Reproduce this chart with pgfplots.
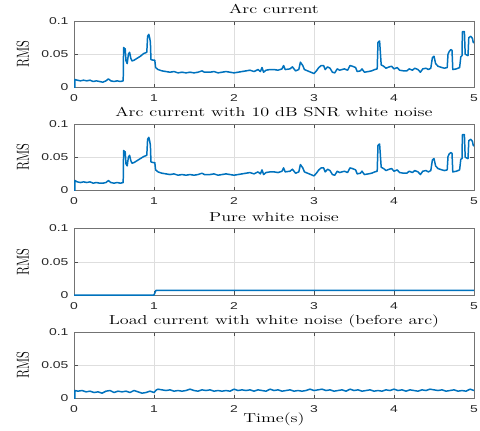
\documentclass[border=0pt]{standalone}
\usepackage{fontspec}
\setmainfont{Latin Modern Roman}[FakeStretch=1.4]
\newfontfamily\rmsfont{Latin Modern Roman}
\newfontfamily\tickfont{Liberation Sans}[FakeStretch=1.4]
\usepackage{pgfplots}
\usepackage{pgfplotstable}
\pgfplotsset{compat=1.18}
\definecolor{mblue}{RGB}{0,114,189}

\pgfplotstableread{
x y
0 0
0.01 0
0.012 0.012
0.04 0.011
0.08 0.010
0.12 0.011
0.16 0.010
0.2 0.011
0.24 0.009
0.28 0.010
0.32 0.009
0.36 0.008
0.40 0.010
0.43 0.013
0.46 0.010
0.5 0.009
0.54 0.010
0.58 0.009
0.615 0.010
0.62 0.060
0.64 0.058
0.65 0.040
0.665 0.036
0.68 0.050
0.695 0.053
0.71 0.044
0.725 0.040
0.75 0.041
0.79 0.044
0.83 0.047
0.87 0.051
0.91 0.053
0.92 0.077
0.935 0.080
0.945 0.075
0.955 0.068
0.962 0.042
0.99 0.041
1.01 0.041
1.02 0.030
1.05 0.027
1.1 0.025
1.15 0.024
1.2 0.023
1.25 0.024
1.3 0.022
1.35 0.023
1.4 0.022
1.45 0.023
1.5 0.022
1.55 0.023
1.6 0.025
1.63 0.023
1.7 0.023
1.75 0.024
1.8 0.022
1.85 0.023
1.9 0.024
1.95 0.023
2.0 0.022
2.05 0.023
2.1 0.024
2.15 0.025
2.2 0.026
2.25 0.024
2.3 0.027
2.33 0.024
2.35 0.030
2.37 0.023
2.4 0.026
2.45 0.027
2.5 0.027
2.55 0.026
2.6 0.028
2.62 0.033
2.64 0.027
2.7 0.028
2.73 0.031
2.77 0.025
2.81 0.027
2.83 0.038
2.86 0.033
2.88 0.027
2.92 0.025
2.96 0.023
3.0 0.021
3.03 0.025
3.06 0.030
3.09 0.033
3.12 0.033
3.14 0.027
3.17 0.031
3.2 0.029
3.23 0.023
3.26 0.022
3.29 0.028
3.32 0.026
3.35 0.027
3.38 0.028
3.42 0.026
3.45 0.033
3.48 0.032
3.52 0.030
3.54 0.024
3.58 0.025
3.6 0.028
3.63 0.023
3.68 0.024
3.72 0.025
3.76 0.027
3.79 0.028
3.8 0.068
3.82 0.070
3.84 0.034
3.87 0.032
3.9 0.029
3.94 0.031
3.97 0.032
4.0 0.028
4.04 0.030
4.07 0.026
4.12 0.025
4.16 0.025
4.19 0.028
4.23 0.026
4.26 0.029
4.3 0.027
4.33 0.023
4.36 0.028
4.4 0.029
4.43 0.027
4.46 0.029
4.48 0.045
4.5 0.047
4.52 0.036
4.55 0.032
4.6 0.030
4.63 0.029
4.665 0.030
4.675 0.050
4.69 0.054
4.71 0.057
4.725 0.056
4.735 0.027
4.78 0.028
4.82 0.030
4.835 0.046
4.85 0.048
4.855 0.084
4.88 0.084
4.89 0.050
4.925 0.048
4.935 0.075
4.96 0.077
4.98 0.074
4.99 0.068
5.0 0.067
}\arcdata

\pgfplotstableread{
x y
0 0
0.01 0
0.012 0.015
0.04 0.013
0.08 0.012
0.12 0.013
0.16 0.012
0.2 0.013
0.24 0.011
0.28 0.012
0.32 0.011
0.36 0.011
0.40 0.012
0.43 0.015
0.46 0.012
0.5 0.011
0.54 0.012
0.58 0.011
0.615 0.012
0.62 0.060
0.64 0.058
0.65 0.040
0.665 0.037
0.68 0.050
0.695 0.053
0.71 0.045
0.725 0.041
0.75 0.042
0.79 0.045
0.83 0.048
0.87 0.051
0.91 0.053
0.92 0.077
0.935 0.080
0.945 0.075
0.955 0.068
0.962 0.043
0.99 0.042
1.01 0.042
1.02 0.031
1.05 0.028
1.1 0.026
1.15 0.025
1.2 0.024
1.25 0.025
1.3 0.023
1.35 0.024
1.4 0.023
1.45 0.024
1.5 0.023
1.55 0.024
1.6 0.026
1.63 0.024
1.7 0.024
1.75 0.025
1.8 0.023
1.85 0.024
1.9 0.025
1.95 0.024
2.0 0.023
2.05 0.024
2.1 0.025
2.15 0.026
2.2 0.027
2.25 0.025
2.3 0.028
2.33 0.025
2.35 0.031
2.37 0.024
2.4 0.027
2.45 0.028
2.5 0.028
2.55 0.027
2.6 0.029
2.62 0.034
2.64 0.028
2.7 0.029
2.73 0.032
2.77 0.026
2.81 0.028
2.83 0.039
2.86 0.034
2.88 0.028
2.92 0.026
2.96 0.024
3.0 0.022
3.03 0.026
3.06 0.031
3.09 0.034
3.12 0.034
3.14 0.028
3.17 0.032
3.2 0.030
3.23 0.024
3.26 0.023
3.29 0.029
3.32 0.027
3.35 0.028
3.38 0.029
3.42 0.027
3.45 0.034
3.48 0.033
3.52 0.031
3.54 0.025
3.58 0.026
3.6 0.029
3.63 0.024
3.68 0.025
3.72 0.026
3.76 0.028
3.79 0.029
3.8 0.068
3.82 0.070
3.84 0.035
3.87 0.033
3.9 0.030
3.94 0.032
3.97 0.033
4.0 0.029
4.04 0.031
4.07 0.027
4.12 0.026
4.16 0.026
4.19 0.029
4.23 0.027
4.26 0.030
4.3 0.028
4.33 0.024
4.36 0.029
4.4 0.030
4.43 0.028
4.46 0.030
4.48 0.046
4.5 0.048
4.52 0.037
4.55 0.033
4.6 0.031
4.63 0.030
4.665 0.031
4.675 0.051
4.69 0.055
4.71 0.057
4.725 0.056
4.735 0.028
4.78 0.029
4.82 0.031
4.835 0.047
4.85 0.048
4.855 0.084
4.88 0.084
4.89 0.050
4.925 0.048
4.935 0.075
4.96 0.077
4.98 0.074
4.99 0.068
5.0 0.067
}\noisyarc

\pgfplotstableread{
x y
0 0
1.0 0
1.01 0.003
1.025 0.007
2.0 0.007
3.0 0.007
4.0 0.007
5.0 0.007
}\whitenoise

\pgfplotstableread{
x y
0 0
0.01 0
0.012 0.012
0.05 0.011
0.1 0.012
0.15 0.010
0.2 0.011
0.25 0.009
0.3 0.010
0.35 0.008
0.4 0.011
0.45 0.012
0.5 0.009
0.55 0.011
0.6 0.010
0.65 0.011
0.7 0.009
0.75 0.012
0.8 0.010
0.85 0.008
0.9 0.009
0.95 0.011
1.0 0.009
1.03 0.013
1.05 0.014
1.1 0.013
1.15 0.012
1.2 0.013
1.25 0.011
1.3 0.012
1.35 0.011
1.4 0.012
1.45 0.014
1.5 0.012
1.55 0.011
1.6 0.013
1.65 0.012
1.7 0.013
1.75 0.011
1.8 0.012
1.85 0.011
1.9 0.012
1.95 0.011
2.0 0.014
2.05 0.012
2.1 0.013
2.15 0.012
2.2 0.013
2.25 0.011
2.3 0.013
2.35 0.012
2.4 0.011
2.45 0.014
2.5 0.012
2.55 0.013
2.6 0.011
2.65 0.012
2.7 0.013
2.75 0.011
2.8 0.012
2.85 0.011
2.9 0.012
2.95 0.014
3.0 0.012
3.05 0.013
3.1 0.014
3.15 0.012
3.2 0.013
3.25 0.011
3.3 0.012
3.35 0.013
3.4 0.011
3.45 0.014
3.5 0.012
3.55 0.013
3.6 0.011
3.65 0.012
3.7 0.013
3.75 0.011
3.8 0.012
3.85 0.011
3.9 0.013
3.95 0.012
4.0 0.014
4.05 0.012
4.1 0.013
4.15 0.011
4.2 0.013
4.25 0.012
4.3 0.011
4.35 0.013
4.4 0.012
4.45 0.014
4.5 0.013
4.55 0.012
4.6 0.013
4.65 0.011
4.7 0.012
4.75 0.013
4.8 0.011
4.85 0.012
4.9 0.011
4.95 0.014
5.0 0.012
}\loaddata

\pgfplotsset{panel/.style={
  scale only axis, width=400bp, height=66.5bp,
  xmin=0, xmax=5, ymin=0, ymax=0.1,
  xtick={0,1,2,3,4,5}, xticklabels={0,1,2,3,4,5},
  ytick={0,0.05,0.1}, yticklabels={0,0.05,0.1},
  scaled y ticks=false,
  grid=major, major grid style={color=black!13, line width=0.5pt},
  axis line style={color=black!55, line width=0.6pt},
  tick style={color=black!70, line width=0.5pt},
  tick align=inside, major tick length=4bp,
  ticklabel style={font=\tickfont\fontsize{10}{12}\selectfont, color=black!85},
  /pgf/number format/assume math mode=true,
  xticklabel style={anchor=base, yshift=-14bp},
  yticklabel style={xshift=-2bp},
  title style={font=\fontsize{13}{15}\selectfont, at={(0.5,1)}, anchor=base, yshift=1.5bp},
  ylabel=RMS,
  ylabel style={font=\rmsfont\fontsize{12.5}{14}\selectfont, at={(axis description cs:-0.128,0.5)}, anchor=center, yscale=1.4},
  anchor=north west,
}}

\begin{document}
\begin{tikzpicture}
\path[use as bounding box] (0,0) rectangle (480bp,-431bp);
\begin{axis}[panel, at={(74bp,-21bp)}, title={Arc current}]
\addplot[mblue, line width=1.5pt, line join=round] table[x=x,y=y] {\arcdata};
\end{axis}
\begin{axis}[panel, at={(74bp,-124bp)}, title={Arc current with 10 dB SNR white noise}]
\addplot[mblue, line width=1.5pt, line join=round] table[x=x,y=y] {\noisyarc};
\end{axis}
\begin{axis}[panel, at={(74bp,-228.5bp)}, title={Pure white noise}]
\addplot[mblue, line width=1.5pt, line join=round] table[x=x,y=y] {\whitenoise};
\end{axis}
\begin{axis}[panel, at={(74bp,-332bp)}, title={Load current with white noise (before arc)},
  xlabel={Time(s)},
  xlabel style={font=\fontsize{13}{15}\selectfont, at={(axis description cs:0.5,0)}, anchor=base, yshift=-23.5bp}]
\addplot[mblue, line width=1.5pt, line join=round] table[x=x,y=y] {\loaddata};
\end{axis}
\end{tikzpicture}
\end{document}
